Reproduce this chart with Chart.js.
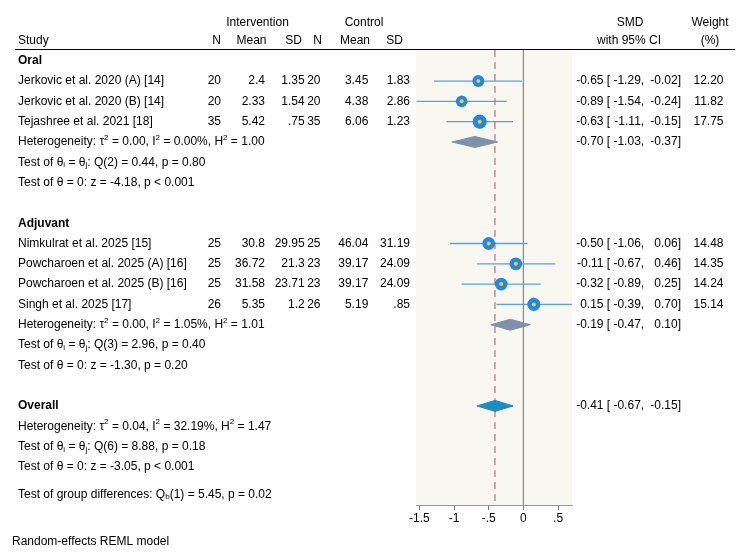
<!DOCTYPE html>
<html><head><meta charset="utf-8">
<script src="https://cdn.jsdelivr.net/npm/chart.js@4.4.1/dist/chart.umd.min.js"></script>
<style>html,body{margin:0;padding:0;background:#fff;}#wrap{width:750px;height:558px;position:relative;}</style>
</head><body><div id="wrap"><canvas id="c" width="750" height="558"></canvas></div>
<script>
// ---------- DATA ----------
const groups = ['Oral', 'Adjuvant'];
const studies = ['Jerkovic et al. 2020 (A) [14]', 'Jerkovic et al. 2020 (B) [14]', 'Tejashree et al. 2021 [18]',
  'Nimkulrat et al. 2025 [15]', 'Powcharoen et al. 2025 (A) [16]', 'Powcharoen et al. 2025 (B) [16]', 'Singh et al. 2025 [17]'];
const studyGroup = [0, 0, 0, 1, 1, 1, 1];
const intN = [20, 20, 35, 25, 25, 25, 26];
const intMean = [2.4, 2.33, 5.42, 30.8, 36.72, 31.58, 5.35];
const intSD = [1.35, 1.54, 0.75, 29.95, 21.3, 23.71, 1.2];
const ctrlN = [20, 20, 35, 25, 23, 23, 26];
const ctrlMean = [3.45, 4.38, 6.06, 46.04, 39.17, 39.17, 5.19];
const ctrlSD = [1.83, 2.86, 1.23, 31.19, 24.09, 24.09, 0.85];
const smd = [-0.65, -0.89, -0.63, -0.50, -0.11, -0.32, 0.15];
const ciLow = [-1.29, -1.54, -1.11, -1.06, -0.67, -0.89, -0.39];
const ciHigh = [-0.02, -0.24, -0.15, 0.06, 0.46, 0.25, 0.70];
const weight = [12.20, 11.82, 17.75, 14.48, 14.35, 14.24, 15.14];

const groupSmd = [-0.70, -0.19];
const groupLow = [-1.03, -0.47];
const groupHigh = [-0.37, 0.10];
const groupTau2 = ['0.00', '0.00'];
const groupI2 = ['0.00', '1.05'];
const groupH2 = ['1.00', '1.01'];
const groupQdf = [2, 3];
const groupQ = ['0.44', '2.96'];
const groupQp = ['= 0.80', '= 0.40'];
const groupZ = ['-4.18', '-1.30'];
const groupZp = ['< 0.001', '= 0.20'];

const overallSmd = -0.41, overallLow = -0.67, overallHigh = -0.15;
const overallTau2 = '0.04', overallI2 = '32.19', overallH2 = '1.47';
const overallQdf = 6, overallQ = '8.88', overallQp = '= 0.18';
const overallZ = '-3.05', overallZp = '< 0.001';
const groupDiffDf = 1, groupDiffQ = '5.45', groupDiffP = '= 0.02';

const xTickValues = [-1.5, -1, -0.5, 0, 0.5];
const xTickLabels = ['-1.5', '-1', '-.5', '0', '.5'];
const xMin = -1.548, xMax = 0.70;

// ---------- LAYOUT (rows) ----------
const FONT = '"Liberation Sans", Arial, Helvetica, sans-serif';
const studyRow = [], groupHeadRow = [], groupSumRow = [];
let r = 0;
groups.forEach((g, gi) => {
  groupHeadRow[gi] = r++;
  studies.forEach((s, i) => { if (studyGroup[i] === gi) studyRow[i] = r++; });
  groupSumRow[gi] = r; r += 3; r += 1;
});
const overallRow = r;          // 17
const groupDiffRow = r + 4.35;
const footRow = r + 6.7;
const yMin = -0.53, yMax = 21.88;

const fmtNum = v => String(v).replace(/^0\./, '.').replace(/^-0\./, '-.');
const f2 = v => v.toFixed(2);

// ---------- DATASETS ----------
const datasets = [];
// yellow centers
datasets.push({ type: 'scatter', order: 0, data: smd.map((v, i) => ({ x: v, y: studyRow[i] })),
  pointRadius: 2, pointHoverRadius: 2, pointBackgroundColor: '#f4d20c', pointBorderWidth: 0 });
// blue markers
datasets.push({ type: 'scatter', order: 1, data: smd.map((v, i) => ({ x: v, y: studyRow[i] })),
  pointRadius: smd.map((v, i) => 3.5 + 0.2 * weight[i]), pointHoverRadius: smd.map((v, i) => 3.5 + 0.2 * weight[i]),
  pointBackgroundColor: '#1f87ee', pointBorderWidth: 0 });
// diamonds
function diamond(est, lo, hi, y, color) {
  const h = 0.27;
  return { type: 'line', order: 2, data: [{ x: lo, y: y }, { x: est, y: y - h }, { x: hi, y: y }, { x: est, y: y + h }, { x: lo, y: y }],
    borderColor: color, backgroundColor: color, borderWidth: 1, fill: 'shape', pointRadius: 0, tension: 0 };
}
groupSmd.forEach((v, gi) => datasets.push(diamond(v, groupLow[gi], groupHigh[gi], groupSumRow[gi], '#7c92aa')));
datasets.push(diamond(overallSmd, overallLow, overallHigh, overallRow, '#1a8dc7'));
// CI lines
smd.forEach((v, i) => datasets.push({ type: 'line', order: 3, data: [{ x: ciLow[i], y: studyRow[i] }, { x: ciHigh[i], y: studyRow[i] }],
  borderColor: '#4fa3f2', borderWidth: 1.3, pointRadius: 0, fill: false }));
// reference lines
datasets.push({ type: 'line', order: 4, data: [{ x: overallSmd, y: yMin }, { x: overallSmd, y: yMax }],
  borderColor: '#a65a6c', borderWidth: 1, borderDash: [7, 5], pointRadius: 0, fill: false });
datasets.push({ type: 'line', order: 5, data: [{ x: 0, y: yMin }, { x: 0, y: yMax }],
  borderColor: '#8c8c8c', borderWidth: 1, pointRadius: 0, fill: false });

// ---------- TEXT HELPERS ----------
function rich(ctx, str, x, y, bold) {
  const parts = str.split(/(\^\{[^}]*\}|_\{[^}]*\})/);
  let cx = x;
  parts.forEach(p => {
    if (!p) return;
    if (p[0] === '^' || p[0] === '_') {
      const t = p.slice(2, -1);
      ctx.font = '8px ' + FONT;
      ctx.fillText(t, cx, y + (p[0] === '^' ? -4 : 3));
      cx += ctx.measureText(t).width;
    } else {
      ctx.font = (bold ? 'bold ' : '') + '12px ' + FONT;
      ctx.fillText(p, cx, y);
      cx += ctx.measureText(p).width;
    }
  });
}
function txt(ctx, s, x, y, align, bold) {
  ctx.font = (bold ? 'bold ' : '') + '12px ' + FONT;
  ctx.textAlign = align || 'left';
  ctx.fillText(s, x, y);
  ctx.textAlign = 'left';
}
function ciText(ctx, est, lo, hi, y) {
  txt(ctx, f2(est), 603.5, y, 'right');
  txt(ctx, '[', 606.8, y, 'left');
  txt(ctx, f2(lo), 640.8, y, 'right');
  txt(ctx, ',', 640.8, y, 'left');
  txt(ctx, f2(hi), 677.7, y, 'right');
  txt(ctx, ']', 677.7, y, 'left');
}

const bgPlugin = {
  id: 'bg',
  beforeDatasetsDraw(chart) {
    const { ctx, chartArea: a } = chart;
    ctx.save();
    ctx.fillStyle = '#f8f7f0';
    ctx.fillRect(a.left, a.top, a.right - a.left, a.bottom - a.top);
    ctx.restore();
  }
};
const textPlugin = {
  id: 'txt',
  afterDraw(chart) {
    const ctx = chart.ctx, ys = chart.scales.y;
    const Y = v => ys.getPixelForValue(v);
    ctx.save();
    ctx.fillStyle = '#000';
    ctx.textBaseline = 'middle';
    // headers
    txt(ctx, 'Intervention', 257.5, 22.5, 'center');
    txt(ctx, 'Control', 364, 22.5, 'center');
    txt(ctx, 'SMD', 630, 22.5, 'center');
    txt(ctx, 'Weight', 710, 22.5, 'center');
    txt(ctx, 'Study', 18, 40.5, 'left');
    txt(ctx, 'N', 221, 40.5, 'right');
    txt(ctx, 'Mean', 266.5, 40.5, 'right');
    txt(ctx, 'SD', 302, 40.5, 'right');
    txt(ctx, 'N', 322, 40.5, 'right');
    txt(ctx, 'Mean', 370, 40.5, 'right');
    txt(ctx, 'SD', 403, 40.5, 'right');
    txt(ctx, 'with 95% CI', 629, 40.5, 'center');
    txt(ctx, '(%)', 710, 40.5, 'center');
    ctx.strokeStyle = '#000'; ctx.lineWidth = 1;
    ctx.beginPath(); ctx.moveTo(15, 49.5); ctx.lineTo(735, 49.5); ctx.stroke();
    // groups
    groups.forEach((g, gi) => {
      txt(ctx, g, 18, Y(groupHeadRow[gi]), 'left', true);
      const sr = groupSumRow[gi];
      rich(ctx, 'Heterogeneity: τ^{2} = ' + groupTau2[gi] + ', I^{2} = ' + groupI2[gi] + '%, H^{2} = ' + groupH2[gi], 18, Y(sr));
      rich(ctx, 'Test of θ_{i} = θ_{j}: Q(' + groupQdf[gi] + ') = ' + groupQ[gi] + ', p ' + groupQp[gi], 18, Y(sr + 1));
      rich(ctx, 'Test of θ = 0: z = ' + groupZ[gi] + ', p ' + groupZp[gi], 18, Y(sr + 2));
      ciText(ctx, groupSmd[gi], groupLow[gi], groupHigh[gi], Y(sr));
    });
    studies.forEach((s, i) => {
      const y = Y(studyRow[i]);
      txt(ctx, s, 18, y, 'left');
      txt(ctx, String(intN[i]), 221, y, 'right');
      txt(ctx, fmtNum(intMean[i]), 265, y, 'right');
      txt(ctx, fmtNum(intSD[i]), 304.7, y, 'right');
      txt(ctx, String(ctrlN[i]), 320.5, y, 'right');
      txt(ctx, fmtNum(ctrlMean[i]), 368.3, y, 'right');
      txt(ctx, fmtNum(ctrlSD[i]), 410, y, 'right');
      ciText(ctx, smd[i], ciLow[i], ciHigh[i], y);
      txt(ctx, f2(weight[i]), 723.5, y, 'right');
    });
    txt(ctx, 'Overall', 18, Y(overallRow), 'left', true);
    ciText(ctx, overallSmd, overallLow, overallHigh, Y(overallRow));
    rich(ctx, 'Heterogeneity: τ^{2} = ' + overallTau2 + ', I^{2} = ' + overallI2 + '%, H^{2} = ' + overallH2, 18, Y(overallRow + 1));
    rich(ctx, 'Test of θ_{i} = θ_{j}: Q(' + overallQdf + ') = ' + overallQ + ', p ' + overallQp, 18, Y(overallRow + 2));
    rich(ctx, 'Test of θ = 0: z = ' + overallZ + ', p ' + overallZp, 18, Y(overallRow + 3));
    rich(ctx, 'Test of group differences: Q_{b}(' + groupDiffDf + ') = ' + groupDiffQ + ', p ' + groupDiffP, 18, Y(groupDiffRow));
    txt(ctx, 'Random-effects REML model', 12, Y(footRow), 'left');
    ctx.restore();
  }
};

Chart.defaults.font.family = FONT;
Chart.defaults.font.size = 12;
Chart.defaults.color = '#000';

new Chart(document.getElementById('c'), {
  type: 'scatter',
  data: { datasets },
  options: {
    responsive: false, animation: false, events: [],
    layout: { padding: { left: 416, right: 178, top: 50, bottom: 0 } },
    plugins: { legend: { display: false }, tooltip: { enabled: false } },
    scales: {
      x: {
        type: 'linear', min: xMin, max: xMax,
        afterBuildTicks: s => { s.ticks = xTickValues.map(v => ({ value: v })); },
        afterFit: s => { s.height = 53; },
        ticks: { padding: 1, color: '#000', font: { size: 12 }, autoSkip: false, maxRotation: 0,
          callback: (v) => { const k = xTickValues.indexOf(v); return k >= 0 ? xTickLabels[k] : ''; } },
        grid: { drawOnChartArea: false, drawTicks: true, tickLength: 5, color: '#7a7a7a' },
        border: { display: true, color: '#9a9a9a' }
      },
      y: { type: 'linear', display: false, reverse: true, min: yMin, max: yMax }
    }
  },
  plugins: [bgPlugin, textPlugin]
});
</script></body></html>
